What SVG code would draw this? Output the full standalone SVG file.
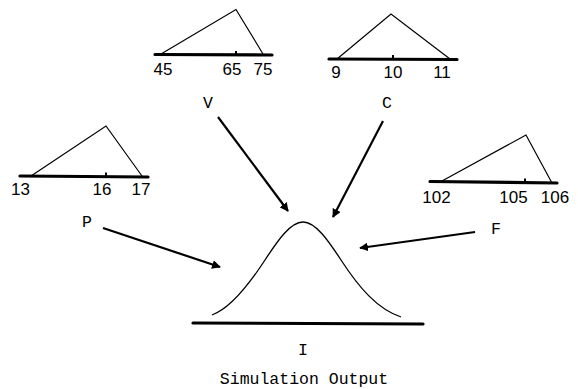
<svg xmlns="http://www.w3.org/2000/svg" width="578" height="389" viewBox="0 0 578 389">
<style>
.tri{fill:none;stroke:#000;stroke-width:1.2;stroke-linejoin:miter}
.base{stroke:#000;stroke-width:3.2;stroke-linecap:round}
.tick{stroke:#000;stroke-width:2}
.num{font-family:"Liberation Sans","DejaVu Sans",sans-serif;font-size:17px;text-anchor:middle;fill:#000}
.lab{font-family:"Liberation Mono","DejaVu Sans Mono",monospace;font-size:16.5px;text-anchor:middle;fill:#000}
.arr{stroke:#000;stroke-width:2.2;fill:none;marker-end:url(#ah)}
.curve{fill:none;stroke:#000;stroke-width:1.3}
</style>
<defs>
<marker id="ah" viewBox="0 0 10 10" refX="9" refY="5" markerWidth="4" markerHeight="4" orient="auto" markerUnits="strokeWidth">
<path d="M0,0 L10,5 L0,10 z" fill="#000"/>
</marker>
</defs>
<rect width="578" height="389" fill="#fff"/>

<g id="V-dist">
<line class="base" x1="155" y1="54.5" x2="272" y2="55"/>
<polyline class="tri" points="161,54 236,9.5 263,54"/>
<line class="tick" x1="236" y1="55" x2="236" y2="51"/>
<text class="num" x="163" y="75">45</text>
<text class="num" x="232" y="75">65</text>
<text class="num" x="263" y="75">75</text>
</g>

<g id="C-dist">
<line class="base" x1="329" y1="59" x2="457" y2="59.5"/>
<polyline class="tri" points="337,59 391,14 450,59"/>
<line class="tick" x1="393" y1="59" x2="393" y2="55"/>
<text class="num" x="336" y="78">9</text>
<text class="num" x="393" y="78">10</text>
<text class="num" x="442" y="78">11</text>
</g>

<g id="P-dist">
<line class="base" x1="20" y1="176" x2="148" y2="177"/>
<polyline class="tri" points="31,176 106,126 142,176"/>
<line class="tick" x1="106" y1="176" x2="106" y2="172.5"/>
<text class="num" x="20.5" y="195">13</text>
<text class="num" x="102" y="195">16</text>
<text class="num" x="141" y="195">17</text>
</g>

<g id="F-dist">
<line class="base" x1="430" y1="181.5" x2="557" y2="183"/>
<polyline class="tri" points="442,181 526,135 552,183"/>
<line class="tick" x1="525" y1="182" x2="525" y2="178.5"/>
<text class="num" x="436.5" y="203">102</text>
<text class="num" x="513.5" y="203">105</text>
<text class="num" x="555" y="203">106</text>
</g>

<g id="labels">
<text class="lab" x="208" y="108">V</text>
<text class="lab" x="387" y="108">C</text>
<text class="lab" x="87" y="227">P</text>
<text class="lab" x="496" y="234">F</text>
</g>

<g id="output">
<path class="curve" d="M212,315 C228.3,309.3 246.7,288.1 265,260 C277.67,240.6 290.33,222 303,222 C315.67,222 328.33,240.6 341,260 C359.3,288.1 377.7,309.3 401,317"/>
<line class="base" x1="193" y1="323" x2="423" y2="324"/>
<text class="lab" x="303" y="355">I</text>
<text class="lab" x="304" y="384">Simulation Output</text>
</g>

<g id="connectors">
<line class="arr" x1="218" y1="117" x2="288" y2="211"/>
<line class="arr" x1="383" y1="121" x2="333" y2="217"/>
<line class="arr" x1="103" y1="228" x2="220" y2="267"/>
<line class="arr" x1="475" y1="232" x2="360" y2="248"/>
</g>
</svg>
